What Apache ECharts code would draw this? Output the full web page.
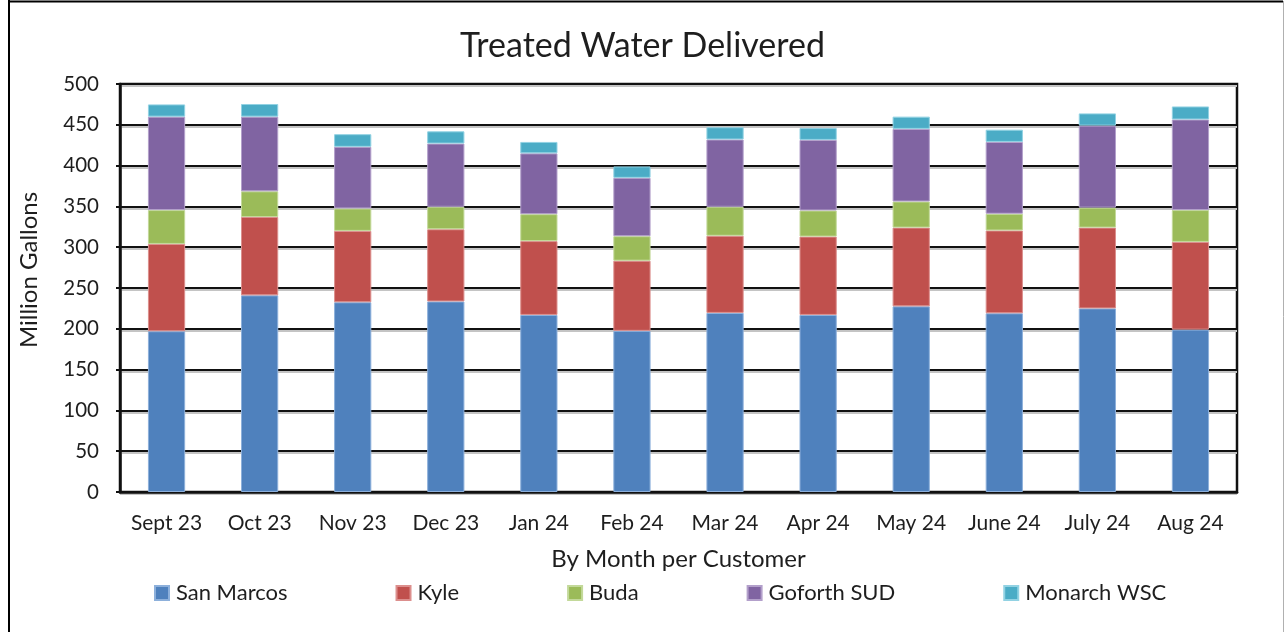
<!DOCTYPE html>
<html>
<head>
<meta charset="utf-8">
<script src="https://cdn.jsdelivr.net/npm/echarts@6/dist/echarts.min.js"></script>
<style>
  html, body { margin: 0; padding: 0; background: #fff; }
  #chart { width: 1285px; height: 632px; }
</style>
</head>
<body>
<div id="chart"></div>
<script>
// months on the x axis
const months = ['Sept 23', 'Oct 23', 'Nov 23', 'Dec 23', 'Jan 24', 'Feb 24',
  'Mar 24', 'Apr 24', 'May 24', 'June 24', 'July 24', 'Aug 24'];

// million gallons per customer
const sanMarcos = [197, 241, 232.5, 233.5, 217, 197.5, 219.5, 217, 227.5, 219, 225, 199];
const kyle = [107, 96, 87.5, 88.5, 90.5, 86, 94.5, 96, 96.5, 101.5, 99, 107.5];
const buda = [41.5, 31.5, 27.5, 27.5, 33, 30, 35.5, 32, 32, 20.5, 24.5, 39];
const goforth = [114.5, 91.5, 75.5, 77.5, 74.5, 71.5, 82.5, 86.5, 89, 88, 100.5, 111];
const monarch = [15, 15.5, 15.5, 15, 14, 14, 15, 14.5, 15, 15, 15, 16];

const yTicks = [0, 50, 100, 150, 200, 250, 300, 350, 400, 450, 500];

const font = 'Lato, "Open Sans", sans-serif';
const ink = '#1e1e1e';

let chart = echarts.init(document.getElementById('chart'));

function barSeries(name, data, color, edge) {
  return {
    name: name,
    type: 'bar',
    stack: 'total',
    barWidth: '40%',
    data: data,
    itemStyle: {
      color: color,
      borderColor: edge,
      borderWidth: 1
    }
  };
}

let option = {
  animation: false,
  backgroundColor: '#fff',
  title: {
    text: 'Treated Water Delivered',
    left: 'center',
    top: 24,
    textStyle: { fontFamily: font, fontSize: 34, fontWeight: 'normal', color: ink }
  },
  legend: {
    bottom: 23,
    left: 149,
    itemWidth: 14,
    itemHeight: 14,
    itemGap: 108,
    icon: 'rect',
    textStyle: { fontFamily: font, fontSize: 22, color: ink, padding: [0, 0, 0, 2] },
    data: ['San Marcos', 'Kyle', 'Buda', 'Goforth SUD', 'Monarch WSC']
  },
  grid: {
    left: 120,
    right: 48,
    top: 84,
    bottom: 140,
    show: true,
    borderColor: '#111',
    borderWidth: 2.5
  },
  xAxis: {
    type: 'category',
    data: months,
    name: 'By Month per Customer',
    nameLocation: 'middle',
    nameGap: 55,
    nameTextStyle: { fontFamily: font, fontSize: 24, color: ink },
    axisLine: { lineStyle: { color: '#111', width: 2.5 } },
    axisTick: { show: false },
    axisLabel: { fontFamily: font, fontSize: 21, color: ink, margin: 21, interval: 0 }
  },
  yAxis: {
    type: 'value',
    min: yTicks[0],
    max: yTicks[yTicks.length - 1],
    interval: 50,
    axisLine: { show: true, lineStyle: { color: '#111', width: 2.5 } },
    axisTick: { show: true, length: 4, lineStyle: { color: '#111', width: 2 } },
    axisLabel: { fontFamily: font, fontSize: 20.5, color: ink, margin: 21 },
    splitLine: {
      lineStyle: {
        color: '#111',
        width: 2,
        shadowColor: '#c4c4c4',
        shadowOffsetY: 2,
        shadowBlur: 0
      }
    }
  },
  graphic: [
    {
      type: 'text',
      x: 29,
      y: 270,
      rotation: Math.PI / 2,
      style: {
        text: 'Million Gallons',
        fill: ink,
        font: '24px Lato, "Open Sans", sans-serif',
        textAlign: 'center',
        textVerticalAlign: 'middle'
      }
    },
    { type: 'line', shape: { x1: 9, y1: 0, x2: 9, y2: 632 }, style: { stroke: '#000', lineWidth: 2 } },
    { type: 'line', shape: { x1: 8, y1: 1.5, x2: 1283, y2: 1.5 }, style: { stroke: '#000', lineWidth: 2 } },
    { type: 'line', shape: { x1: 1283.5, y1: 1, x2: 1283.5, y2: 632 }, style: { stroke: '#b0b0b0', lineWidth: 1 } }
  ],
  series: [
    barSeries('San Marcos', sanMarcos, '#4f81bd', '#8db0db'),
    barSeries('Kyle', kyle, '#c0504d', '#dc8f8d'),
    barSeries('Buda', buda, '#9bbb59', '#c3d99a'),
    barSeries('Goforth SUD', goforth, '#8064a2', '#b3a0cb'),
    barSeries('Monarch WSC', monarch, '#4bacc6', '#92d2e3')
  ]
};

chart.setOption(option, true);

window.addEventListener('resize', function () {
  chart.resize();
});
</script>
</body>
</html>
